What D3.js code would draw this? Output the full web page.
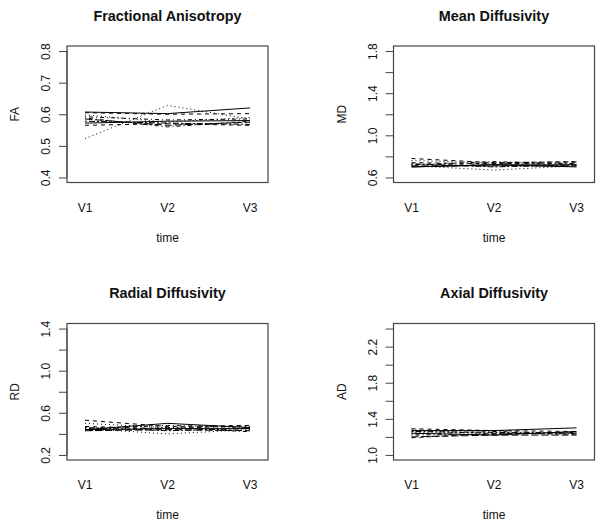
<!DOCTYPE html>
<html>
<head>
<meta charset="utf-8">
<script src="https://cdn.jsdelivr.net/npm/d3@7"></script>
<style>
  body { margin: 0; background: #fff; }
  text { font-family: "Liberation Sans", Arial, sans-serif; fill: #111; }
</style>
</head>
<body>
<svg id="chart" width="604" height="531"></svg>
<script>
// ---- data ----
const timeLabels = ["V1", "V2", "V3"];
const titles = ["Fractional Anisotropy", "Mean Diffusivity", "Radial Diffusivity", "Axial Diffusivity"];
const yLabels = ["FA", "MD", "RD", "AD"];
const yLimits = [[0.4, 0.8], [0.6, 1.8], [0.2, 1.4], [1.0, 2.4]];
const faTicks = [0.4, 0.5, 0.6, 0.7, 0.8];
const mdTicks = [0.6, 0.8, 1.0, 1.2, 1.4, 1.6, 1.8];
const rdTicks = [0.2, 0.4, 0.6, 0.8, 1.0, 1.2, 1.4];
const adTicks = [1.0, 1.2, 1.4, 1.6, 1.8, 2.0, 2.2, 2.4];
const faTickLabels = ["0.4", "0.5", "0.6", "0.7", "0.8"];
const mdTickLabels = ["0.6", "", "1.0", "", "1.4", "", "1.8"];
const rdTickLabels = ["0.2", "", "0.6", "", "1.0", "", "1.4"];
const adTickLabels = ["1.0", "", "1.4", "", "1.8", "", "2.2", ""];

// one row per subject: values at V1, V2, V3
const FA = [
  [0.607, 0.602, 0.620],
  [0.605, 0.600, 0.602],
  [0.598, 0.575, 0.590],
  [0.592, 0.582, 0.585],
  [0.585, 0.565, 0.575],
  [0.578, 0.572, 0.568],
  [0.572, 0.578, 0.580],
  [0.565, 0.570, 0.565],
  [0.523, 0.628, 0.585],
  [0.588, 0.560, 0.578]
];
const MD = [
  [0.70, 0.72, 0.72],
  [0.78, 0.74, 0.75],
  [0.76, 0.74, 0.75],
  [0.72, 0.73, 0.73],
  [0.71, 0.71, 0.71],
  [0.73, 0.70, 0.72],
  [0.70, 0.72, 0.70],
  [0.74, 0.73, 0.74],
  [0.71, 0.67, 0.71],
  [0.72, 0.75, 0.73]
];
const RD = [
  [0.44, 0.45, 0.45],
  [0.53, 0.47, 0.48],
  [0.50, 0.46, 0.47],
  [0.45, 0.48, 0.46],
  [0.43, 0.44, 0.43],
  [0.46, 0.43, 0.45],
  [0.44, 0.50, 0.46],
  [0.47, 0.45, 0.48],
  [0.45, 0.40, 0.44],
  [0.43, 0.46, 0.42]
];
const AD = [
  [1.27, 1.27, 1.30],
  [1.29, 1.27, 1.26],
  [1.25, 1.24, 1.23],
  [1.22, 1.23, 1.25],
  [1.20, 1.22, 1.22],
  [1.26, 1.25, 1.24],
  [1.24, 1.22, 1.26],
  [1.19, 1.24, 1.23],
  [1.28, 1.23, 1.25],
  [1.23, 1.26, 1.24]
];

const seriesByPanel = [FA, MD, RD, AD];
const ticksByPanel = [faTicks, mdTicks, rdTicks, adTicks];
const tickLabelsByPanel = [faTickLabels, mdTickLabels, rdTickLabels, adTickLabels];

// R line types 1..6
const dashes = [null, "4,4", "1,3", "1,3,4,3", "7,3", "2,2,6,2"];

const svg = d3.select("#chart");
const boxW = 201, boxH = 136.5;
const origins = [[67, 46], [393.5, 46], [67, 323.5], [393.5, 323.5]];

origins.forEach(([bx, by], p) => {
  const g = svg.append("g").attr("transform", `translate(${bx},${by})`);
  const [lo, hi] = yLimits[p];
  const ext = (hi - lo) * 0.04;
  const x = d3.scalePoint().domain(timeLabels).range([18, boxW - 18]);
  const y = d3.scaleLinear().domain([lo - ext, hi + ext]).range([boxH, 0]);

  const line = d3.line().x((d, i) => x(timeLabels[i])).y(d => y(d));
  const data = seriesByPanel[p];
  g.selectAll("path.trace").data(data).join("path")
    .attr("class", "trace")
    .attr("d", line)
    .attr("fill", "none")
    .attr("stroke", "#000")
    .attr("stroke-width", 1)
    .attr("stroke-dasharray", (d, i) => dashes[i % 6]);

  // box
  g.append("rect").attr("x", 0).attr("y", 0).attr("width", boxW).attr("height", boxH)
    .attr("fill", "none").attr("stroke", "#444").attr("stroke-width", 1.2);

  // y axis
  const labs = tickLabelsByPanel[p];
  const yAxis = d3.axisLeft(y).tickValues(ticksByPanel[p]).tickSize(8).tickPadding(5)
    .tickFormat((d, i) => labs[i]);
  const ya = g.append("g").call(yAxis);
  ya.select(".domain").attr("stroke", "#444").attr("d",
    `M0,${y(ticksByPanel[p][0])}V${y(ticksByPanel[p][ticksByPanel[p].length - 1])}`);
  ya.selectAll(".tick line").attr("stroke", "#444");
  ya.selectAll(".tick text")
    .attr("font-size", 12)
    .attr("font-family", '"Liberation Sans", Arial, sans-serif')
    .attr("fill", "#111")
    .attr("text-anchor", "middle")
    .attr("x", null).attr("dy", null)
    .attr("transform", "translate(-17,0) rotate(-90)")
    .attr("y", 0);

  // x labels (no ticks)
  g.selectAll("text.xl").data(timeLabels).join("text")
    .attr("class", "xl")
    .attr("x", d => x(d)).attr("y", 165.5)
    .attr("text-anchor", "middle").attr("font-size", 12).text(d => d);

  // axis titles
  g.append("text").attr("x", boxW / 2).attr("y", 195.5)
    .attr("text-anchor", "middle").attr("font-size", 12).text("time");
  g.append("text").attr("transform", `translate(-48,${boxH / 2}) rotate(-90)`)
    .attr("text-anchor", "middle").attr("font-size", 12).text(yLabels[p]);

  // main title
  g.append("text").attr("x", boxW / 2).attr("y", -25.5)
    .attr("text-anchor", "middle").attr("font-size", 14.4).attr("font-weight", "bold")
    .text(titles[p]);
});
</script>
</body>
</html>
